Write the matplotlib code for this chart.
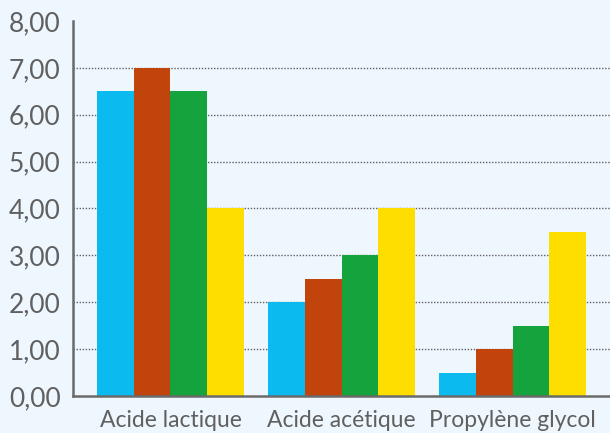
import numpy as np
import matplotlib
matplotlib.use('Agg')
import matplotlib.pyplot as plt
from matplotlib.ticker import FuncFormatter

plt.rcParams['font.family'] = ['Lato', 'DejaVu Sans']

BG = '#eff7fe'
GREY = '#606060'

categories = ['Acide lactique', 'Acide acétique', 'Propylène glycol']
serie_1 = [6.5, 2.0, 0.5]
serie_2 = [7.0, 2.5, 1.0]
serie_3 = [6.5, 3.0, 1.5]
serie_4 = [4.0, 4.0, 3.5]
colors = ['#0bbaee', '#c0440c', '#14a33c', '#fedd00']

DPI = 100
fig = plt.figure(figsize=(6.10, 4.33), dpi=DPI, facecolor=BG)
ax = fig.add_axes([0.1197, 0.0855, 0.8803, 0.866], facecolor=BG)

x = np.arange(len(categories))
w = 0.216
for i, (vals, c) in enumerate(zip([serie_1, serie_2, serie_3, serie_4], colors)):
    ax.bar(x + (i - 1.5) * w, vals, w, color=c, zorder=3, linewidth=0)

# quadrillage pointillé sous les barres
for yv in range(1, 8):
    ax.axhline(yv, color=GREY, lw=1.0, ls=(0, (1, 1.2)), zorder=1)

ax.set_xlim(-0.57, 2.57)
ax.set_ylim(0, 8)
ax.set_yticks(range(0, 9))
ax.yaxis.set_major_formatter(FuncFormatter(lambda v, p: f'{v:.2f}'.replace('.', ',')))
ax.set_xticks(x)
ax.set_xticklabels(categories)

ax.tick_params(axis='y', length=0, pad=9, labelsize=19, labelcolor=GREY)
ax.tick_params(axis='x', length=0, pad=10, labelsize=16.5, labelcolor=GREY)

for s in ['top', 'right']:
    ax.spines[s].set_visible(False)
for s in ['left', 'bottom']:
    ax.spines[s].set_color('#6a6a6a')
    ax.spines[s].set_linewidth(1.8)
    ax.spines[s].set_zorder(4)

fig.savefig('out.png', dpi=DPI, facecolor=BG)
plt.close()
